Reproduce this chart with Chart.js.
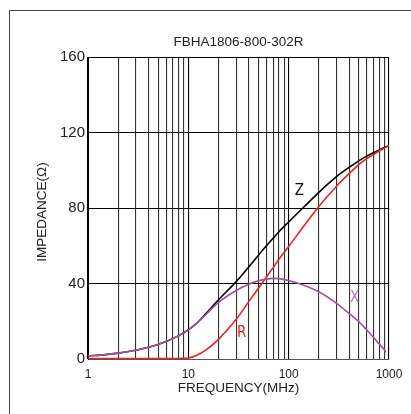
<!DOCTYPE html>
<html>
<head>
<meta charset="utf-8">
<script src="https://cdn.jsdelivr.net/npm/chart.js@4/dist/chart.umd.min.js"></script>
<style>
  html, body { margin: 0; padding: 0; background: #fff; }
  #wrap { width: 411px; height: 414px; }
</style>
</head>
<body>
<div id="wrap"><canvas id="impedanceChart" width="411" height="414"></canvas></div>
<script>
// frequency points (MHz)
const freqs = [1, 1.5, 2, 3, 4, 5, 6, 7, 8, 9, 10, 12, 15, 20, 30, 40, 50, 60, 70, 80, 100, 150, 200, 300, 400, 500, 600, 700, 800, 900, 1000];
const zValues = [1.6, 2.3, 3.1, 4.6, 6.2, 7.7, 9.3, 10.8, 12.3, 13.9, 15.4, 18.7, 24.1, 31.4, 41.0, 48.8, 55.0, 60.0, 64.0, 67.4, 72.6, 81.8, 88.3, 96.6, 101.5, 105.0, 107.5, 109.3, 110.8, 112.0, 113.0];
const rValues = [0.3, 0.3, 0.3, 0.3, 0.3, 0.3, 0.3, 0.3, 0.3, 0.4, 0.5, 1.8, 4.8, 10.4, 21.0, 30.4, 37.5, 43.4, 48.4, 52.8, 59.6, 72.2, 80.8, 91.5, 98.2, 103.0, 106.2, 108.3, 110.2, 111.7, 113.0];
const xFreqs = [1, 1.5, 2, 3, 4, 5, 6, 7, 8, 9, 10, 12, 15, 20, 30, 40, 50, 60, 70, 80, 100, 150, 200, 300, 400, 500, 600, 700, 800, 900, 930];
const xValues = [1.6, 2.3, 3.1, 4.6, 6.2, 7.7, 9.3, 10.8, 12.3, 13.9, 15.4, 18.6, 23.6, 30.0, 36.3, 39.6, 41.4, 42.3, 42.7, 42.6, 41.6, 38.6, 35.6, 29.5, 24.2, 19.8, 15.4, 11.5, 7.9, 4.8, 3.7];
const xTickLabels = [1, 10, 100, 1000];
const yTicks = [0, 40, 80, 120, 160];

const pts = (fs, vs) => fs.map((f, i) => ({ x: f, y: vs[i] }));
const logTicks = [];
for (let d = 1; d < 1000; d *= 10) for (let m = 1; m < 10; m++) logTicks.push(m * d);
logTicks.push(1000);

const FONT = "'Liberation Sans', Arial, sans-serif";
const NARROW = "'Liberation Sans Narrow', 'DejaVu Sans Condensed', sans-serif";

const decorations = {
  id: "decorations",
  afterDraw(chart) {
    const { ctx, chartArea: a, scales } = chart;
    ctx.save();
    // outer frame (cut off at right and bottom)
    ctx.strokeStyle = "#4a4040";
    ctx.lineWidth = 1;
    ctx.beginPath();
    ctx.moveTo(9.5, 414);
    ctx.lineTo(9.5, 10.5);
    ctx.lineTo(411, 10.5);
    ctx.stroke();

    ctx.fillStyle = "#222";
    ctx.textAlign = "center";
    ctx.textBaseline = "middle";
    ctx.font = `13.5px ${FONT}`;
    ctx.fillText("FBHA1806-800-302R", (a.left + a.right) / 2, 42.5);
    ctx.fillText("FREQUENCY(MHz)", (a.left + a.right) / 2, 388);

    ctx.translate(42, 212);
    ctx.rotate(-Math.PI / 2);
    ctx.fillText("IMPEDANCE(Ω)", 0, 0);
    ctx.restore();

    // curve labels
    ctx.save();
    ctx.textAlign = "center";
    ctx.textBaseline = "middle";
    ctx.font = `15px ${NARROW}`;
    ctx.fillStyle = "#111";
    ctx.fillText("Z", scales.x.getPixelForValue(128), scales.y.getPixelForValue(89));
    ctx.fillStyle = "#e8231f";
    ctx.fillText("R", scales.x.getPixelForValue(34), scales.y.getPixelForValue(13.6));
    ctx.fillStyle = "#c070c0";
    ctx.fillText("X", scales.x.getPixelForValue(455), scales.y.getPixelForValue(32.3));
    ctx.restore();
  }
};

new Chart(document.getElementById("impedanceChart"), {
  type: "line",
  data: {
    datasets: [
      { label: "X", data: pts(xFreqs, xValues), borderColor: "#a9509f", borderWidth: 1.6, pointRadius: 0, cubicInterpolationMode: "monotone" },
      { label: "R", data: pts(freqs, rValues), borderColor: "#ec2420", borderWidth: 1.6, pointRadius: 0, cubicInterpolationMode: "monotone" },
      { label: "Z", data: pts(freqs, zValues), borderColor: "#000000", borderWidth: 1.6, pointRadius: 0, cubicInterpolationMode: "monotone" }
    ]
  },
  options: {
    responsive: false,
    animation: false,
    layout: { padding: { left: 0, top: 57, right: 22, bottom: 0 } },
    plugins: { legend: { display: false }, tooltip: { enabled: false } },
    scales: {
      x: {
        type: "logarithmic",
        min: 1,
        max: 1000,
        afterBuildTicks: (scale) => { scale.ticks = logTicks.map((v) => ({ value: v })); },
        afterFit: (scale) => { scale.height = 55; },
        ticks: {
          autoSkip: false,
          maxRotation: 0,
          padding: 8,
          color: "#222",
          font: { family: FONT, size: 12 },
          callback: (v) => (xTickLabels.includes(v) ? String(v) : "")
        },
        grid: {
          color: (c) => (xTickLabels.includes(c.tick.value) ? "#000" : "#333"),
          lineWidth: 1.1,
          drawTicks: false
        },
        border: { color: "#555", width: 1 }
      },
      y: {
        min: 0,
        max: 160,
        afterBuildTicks: (scale) => { scale.ticks = yTicks.map((v) => ({ value: v })); },
        afterFit: (scale) => { scale.width = 88; },
        ticks: {
          padding: 3,
          color: "#222",
          font: { family: FONT, size: 15 }
        },
        grid: { color: "#000", lineWidth: 1, drawTicks: false },
        border: { color: "#000", width: 1 }
      }
    }
  },
  plugins: [decorations]
});
</script>
</body>
</html>
